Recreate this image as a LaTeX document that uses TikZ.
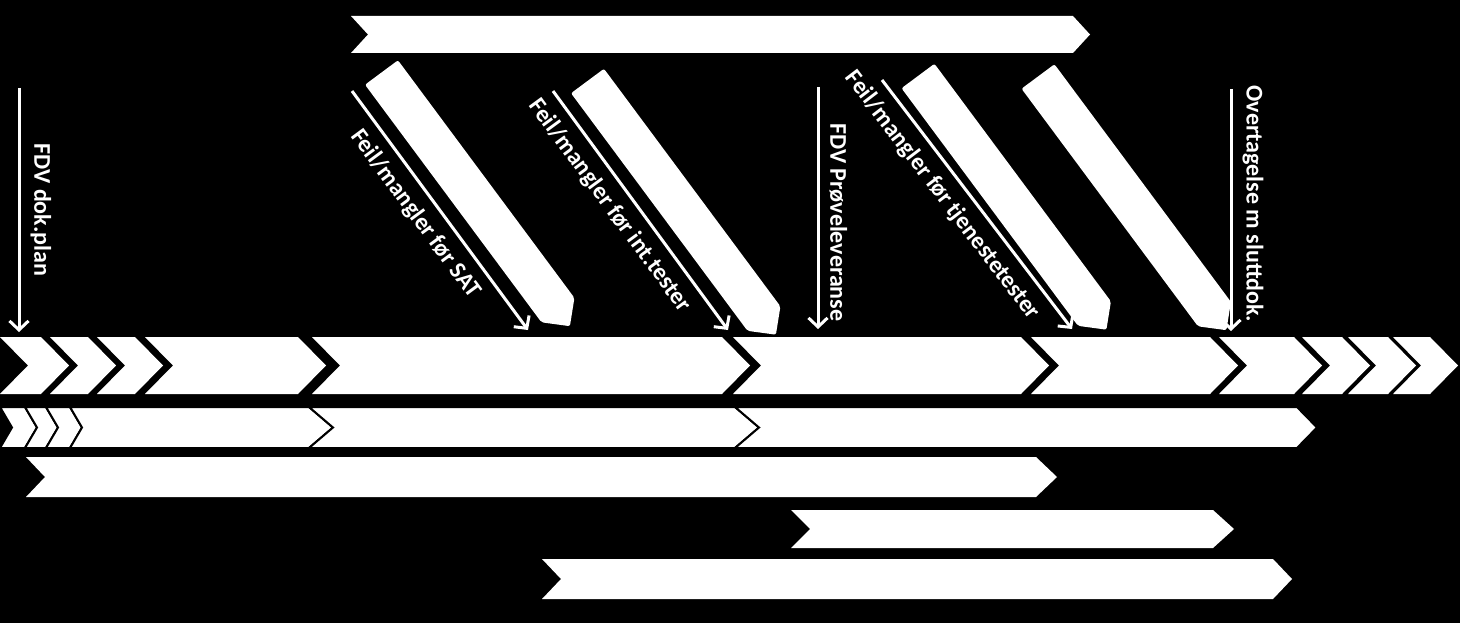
\documentclass[tikz,border=0pt]{standalone}
\usepackage{fontspec}
\setmainfont{Carlito}
\usetikzlibrary{arrows.meta}

% chevron: style, left x, right x, top y, bottom y, notch depth, point depth
\newcommand{\chevron}[7]{%
  \path[#1] (#2,#4) -- (#3,#4) -- ({#3+#7},{(#4+#5)/2}) -- (#3,#5)
    -- (#2,#5) -- ({#2+#6},{(#4+#5)/2}) -- cycle;}
% slanted bar from its top middle point
\newcommand{\slab}[2]{%
  \fill[white, rounded corners=2pt, shift={(#1,#2)}, rotate=-53.4]
    (0,-20.5) -- (296,-20.5) -- (316,0) -- (296,20.5) -- (0,20.5) -- cycle;}

\begin{document}
\begin{tikzpicture}[x=1pt, y={(0,-1pt)},
  stage/.style={fill=white},
  substage/.style={fill=white, draw=black, line width=2pt},
  marker/.style={draw=white, line width=3pt, -{Straight Barb[length=9pt,width=19pt]}},
  tag/.style={text=white, font=\bfseries\fontsize{24}{28}\selectfont,
    sloped, allow upside down, inner sep=10pt}]
\fill[black] (0,0) rectangle (1460,623);
\useasboundingbox (0,0) rectangle (1460,623);

% top band
\chevron{stage}{351}{1073}{16}{53}{17}{17}

% slanted bars
\slab{381.5}{72.5}
\slab{587.5}{81}
\slab{918}{76}
\slab{1038}{76.5}

% main row
\foreach \l/\r in {0/41, 50/88, 97/135, 145/298, 312/722, 733/1021,
  1031/1210, 1219/1294, 1302/1342, 1348/1388, 1393/1430}
  {\chevron{stage}{\l}{\r}{337}{394}{28}{28}}

% second row
\chevron{substage}{0}{25}{407}{448}{12}{12}
\chevron{substage}{25}{46}{407}{448}{12}{12}
\chevron{substage}{46}{70}{407}{448}{12}{12}
\chevron{substage}{70}{309}{407}{448}{12}{24}
\chevron{substage}{309}{735}{407}{448}{24}{24}
\chevron{substage}{735}{1297}{407}{448}{24}{20}

% lower rows
\chevron{stage}{26}{1036}{457}{497}{19}{21}
\chevron{stage}{791}{1213}{510}{548}{19}{21}
\chevron{stage}{542}{1273}{559}{599}{19}{19}

% milestones
\coordinate (dokTop) at (19,88);
\coordinate (dokEnd) at (19,332);
\coordinate (satTop) at (352,91);
\coordinate (satEnd) at (528,330);
\coordinate (intTop) at (553,91);
\coordinate (intEnd) at (728,330);
\coordinate (proveTop) at (818,87);
\coordinate (proveEnd) at (818,329);
\coordinate (tjenTop) at (882,80);
\coordinate (tjenEnd) at (1072,329);
\coordinate (overTop) at (1231,89);
\coordinate (overEnd) at (1231,331);

\draw[marker] (dokTop) -- (dokEnd)
  node[tag, pos=0.5, above] (dokLbl) {FDV dok.plan};
\draw[marker] (satTop) -- (satEnd)
  node[tag, pos=0.46, below] (satLbl) {Feil/mangler før SAT};
\draw[marker] (intTop) -- (intEnd)
  node[tag, pos=0.425, below] (intLbl) {Feil/mangler før int.tester};
\draw[marker] (proveTop) -- (proveEnd)
  node[tag, pos=0.56, above] (proveLbl) {FDV Prøveleveranse};
\draw[marker] (tjenTop) -- (tjenEnd)
  node[tag, pos=0.41, below] (tjenLbl) {Feil/mangler før tjenestetester};
\draw[marker] (overTop) -- (overEnd)
  node[tag, pos=0.475, above] (overLbl) {Overtagelse m sluttdok.};
\end{tikzpicture}
\end{document}
